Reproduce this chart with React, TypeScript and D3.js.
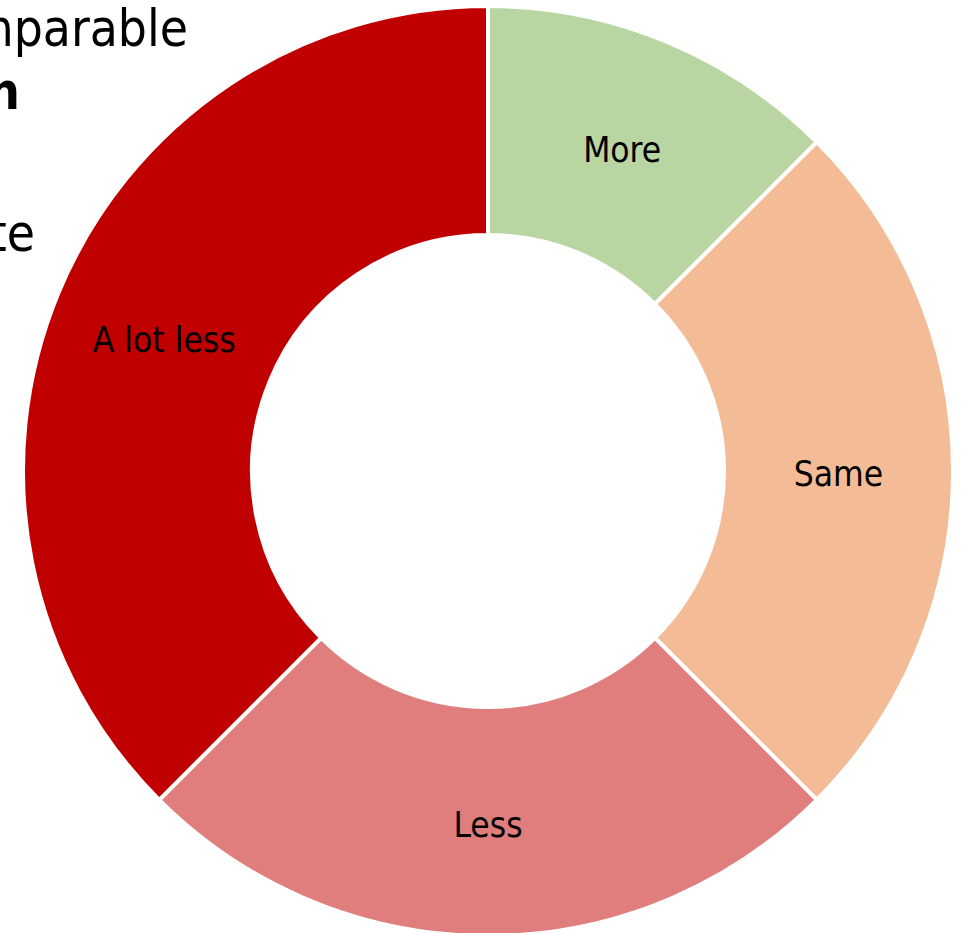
import React from "react";
import * as d3 from "d3";

const categories = ["More", "Same", "Less", "A lot less"];
const values = [12.5, 25, 25, 37.5];
const colors = ["#B8D5A2", "#F4BC96", "#E07E7E", "#C00000"];
const titleLines = ["comparable", "n", "", "te"];

export default function App() {
  const W = 963, H = 933;
  const cx = 488, cy = 471, R = 465, r = 236;
  const pie = d3.pie<number>().sort(null).value((d) => d)(values);
  const arc = d3.arc<d3.PieArcDatum<number>>().innerRadius(r).outerRadius(R);
  const font = "Tahoma, 'DejaVu Sans', sans-serif";
  return (
    <svg width={W} height={H} style={{ position: "absolute", left: 0, top: 0, background: "#fff" }}>
      <g transform={`translate(${cx},${cy})`}>
        {pie.map((p, i) => (
          <path key={i} d={arc(p) || ""} fill={colors[i]} stroke="#fff" strokeWidth={4} />
        ))}
        {pie.map((p, i) => {
          const [x, y] = arc.centroid(p);
          return (
            <text key={"t" + i} x={x} y={y + 3} textAnchor="middle" dominantBaseline="central"
              fontFamily={font} fontSize={35} fill="#000" style={{ fontStretch: "condensed" }}>
              {categories[i]}
            </text>
          );
        })}
      </g>
      <text x={188} y={46} textAnchor="end" fontFamily={font} fontSize={51} style={{ fontStretch: "condensed" }}>{titleLines[0]}</text>
      <text x={20} y={109} textAnchor="end" fontFamily={font} fontSize={51} fontWeight="bold" style={{ fontStretch: "condensed" }}>{titleLines[1]}</text>
      <text x={35} y={251} textAnchor="end" fontFamily={font} fontSize={51} style={{ fontStretch: "condensed" }}>{titleLines[3]}</text>
    </svg>
  );
}
